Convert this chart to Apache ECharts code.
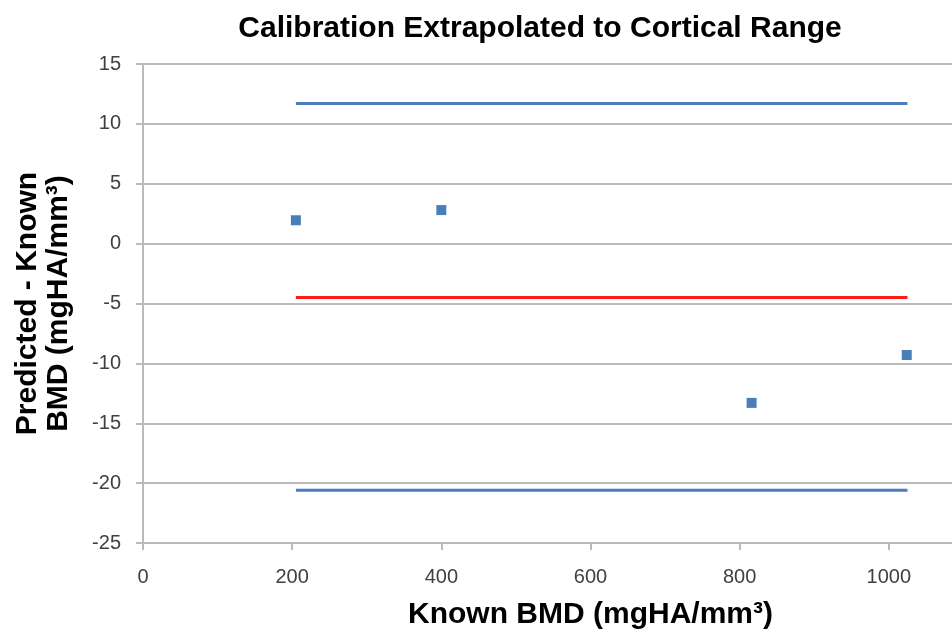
<!DOCTYPE html>
<html>
<head>
<meta charset="utf-8">
<script src="https://cdn.jsdelivr.net/npm/echarts@6/dist/echarts.min.js"></script>
<style>
html,body{margin:0;padding:0;background:#fff;}
#chart{width:952px;height:637px;}
</style>
</head>
<body>
<div id="chart"></div>
<script>
// Data
const knownBMD = [205, 400, 816, 1024];
const difference = [1.95, 2.8, -13.3, -9.3];
const limitX = [205, 1025];
const upperLimit = 11.7;
const meanDiff = -4.5;
const lowerLimit = -20.6;
const xTicks = [0, 200, 400, 600, 800, 1000, 1200];
const yTicks = [-25, -20, -15, -10, -5, 0, 5, 10, 15];

const points = knownBMD.map((x, i) => [x, difference[i]]);
const hline = v => limitX.map(x => [x, v]);

const chart = echarts.init(document.getElementById('chart'), null, {renderer: 'canvas'});
const gridColor = '#bababa';
const font = 'Liberation Sans, Arial, sans-serif';
const labelStyle = {fontFamily: font, fontSize: 20, color: '#404040'};
chart.setOption({
  animation: false,
  backgroundColor: '#ffffff',
  title: {
    text: 'Calibration Extrapolated to Cortical Range',
    left: 535, top: 9, textAlign: 'center',
    textStyle: {fontFamily: font, fontSize: 30, fontWeight: 'bold', color: '#000'}
  },
  grid: {left: 143, top: 64, bottom: 94, right: -86, outerBoundsMode: 'none', containLabel: false},
  xAxis: {
    type: 'value', min: xTicks[0], max: xTicks[xTicks.length - 1], interval: 200,
    name: 'Known BMD (mgHA/mm³)', nameLocation: 'middle', nameGap: 57,
    nameTextStyle: {fontFamily: font, fontSize: 30, fontWeight: 'bold', color: '#000'},
    axisLine: {show: true, onZero: false, lineStyle: {color: gridColor, width: 2}},
    axisTick: {show: true, length: 7, lineStyle: {color: gridColor, width: 2}},
    axisLabel: Object.assign({margin: 24, formatter: v => String(v)}, labelStyle),
    splitLine: {show: false}
  },
  yAxis: {
    type: 'value', min: yTicks[0], max: yTicks[yTicks.length - 1], interval: 5,
    name: 'Predicted - Known\nBMD (mgHA/mm³)', nameLocation: 'middle', nameGap: 69, nameRotate: 90,
    nameTextStyle: {fontFamily: font, fontSize: 30, fontWeight: 'bold', color: '#000', lineHeight: 31},
    axisLine: {show: true, onZero: false, lineStyle: {color: gridColor, width: 2}},
    axisTick: {show: true, length: 7, lineStyle: {color: gridColor, width: 2}},
    axisLabel: Object.assign({margin: 22}, labelStyle),
    splitLine: {show: true, lineStyle: {color: gridColor, width: 2}}
  },
  series: [
    {type: 'line', data: hline(upperLimit), symbol: 'none', lineStyle: {color: '#4a7ebb', width: 3}, z: 2},
    {type: 'line', data: hline(meanDiff), symbol: 'none', lineStyle: {color: '#ff1a1a', width: 3}, z: 2},
    {type: 'line', data: hline(lowerLimit), symbol: 'none', lineStyle: {color: '#4a7ebb', width: 3}, z: 2},
    {type: 'scatter', data: points, symbol: 'rect', symbolSize: 10, itemStyle: {color: '#4a7ebb', opacity: 1}, z: 3}
  ]
});
</script>
</body>
</html>
